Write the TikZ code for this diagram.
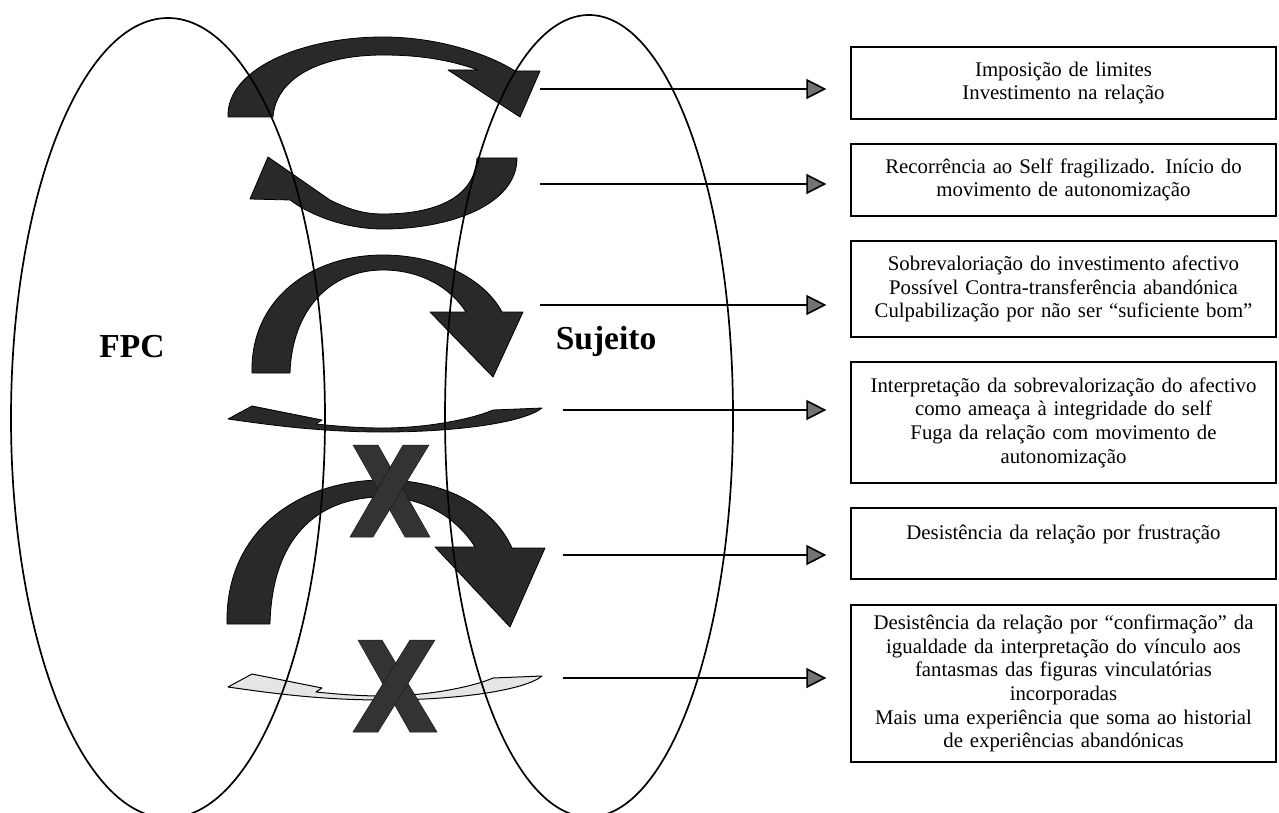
\documentclass[tikz,border=0pt]{standalone}
\usepackage{fontspec}
\setmainfont{Liberation Serif}
\usetikzlibrary{arrows.meta}
\begin{document}
\begin{tikzpicture}[x=1pt,y=-1pt,
  band/.style={fill=black!84, draw=black, line width=0.8pt, line join=round},
  lightband/.style={fill=black!10, draw=black, line width=1pt, line join=round},
  xmark/.style={fill=black!80, draw=black!90, line width=0.5pt},
  oval/.style={draw=black, line width=1.7pt},
  infobox/.style={draw=black, line width=1.3pt, minimum width=425pt, inner xsep=3pt, inner ysep=0pt, text width=419pt, align=center, font=\fontsize{20.8}{23.6}\selectfont},
  conn/.style={line width=1.6pt, -{Triangle[length=20pt,width=20pt,fill=black!55]}, shorten >=24pt},
  biglabel/.style={font=\fontsize{33.5}{38}\selectfont\bfseries, inner sep=0pt}
]
\useasboundingbox (0,0) rectangle (1279,813);
\clip (0,0) rectangle (1279,813);

% shape 1: curved down arrow (top)
\draw[band] (228,117) .. controls (226,70) and (300,37) .. (383,37)
  .. controls (440,37) and (490,55) .. (515,71)
  -- (540,71) -- (520,117) -- (448,70) -- (478,70)
  .. controls (450,60) and (420,55) .. (383,55)
  .. controls (320,55) and (276,78) .. (273,117) -- cycle;

% shape 2: curved up arrow pointing left
\draw[band] (477,158) -- (517,158)
  .. controls (517,205) and (450,229) .. (383,229)
  .. controls (345,229) and (310,215) .. (290,200)
  -- (250,199) -- (268,157) -- (330,200)
  .. controls (350,210) and (365,214) .. (383,214)
  .. controls (440,214) and (475,195) .. (477,158) -- cycle;

% shape 3: curved down arrow
\draw[band] (252,373) .. controls (250,300) and (310,255) .. (383,255)
  .. controls (440,255) and (485,280) .. (502,312)
  -- (523,312) -- (493,377) -- (430,312) -- (466,312)
  .. controls (450,287) and (420,270) .. (383,270)
  .. controls (330,270) and (292,310) .. (290,373) -- cycle;

% shape 4: flat arrow pointing left
\draw[band] (228,419) -- (252,406) -- (322,420) -- (316,424)
  .. controls (345,427) and (365,428) .. (383,428)
  .. controls (430,428) and (475,418) .. (493,410) -- (542,408)
  .. controls (525,422) and (460,432) .. (383,432)
  .. controls (320,432) and (270,425) .. (228,419) -- cycle;

% shape 5: big curved down arrow
\draw[band] (227,624) .. controls (225,530) and (300,480) .. (383,480)
  .. controls (450,480) and (495,510) .. (512,548)
  -- (545,548) -- (510,627) -- (435,547) -- (475,547)
  .. controls (455,515) and (420,497) .. (383,497)
  .. controls (315,497) and (272,540) .. (270,624) -- cycle;

% shape 6: light flat arrow pointing left
\begin{scope}[shift={(0,268)}]
\draw[lightband] (228,419) -- (252,406) -- (322,420) -- (316,424)
  .. controls (345,427) and (365,428) .. (383,428)
  .. controls (430,428) and (475,418) .. (493,410) -- (542,408)
  .. controls (525,422) and (460,432) .. (383,432)
  .. controls (320,432) and (270,425) .. (228,419) -- cycle;
\end{scope}

% X marks
\fill[xmark] (353,445) -- (378,445) -- (430,537) -- (405,537) -- cycle;
\fill[xmark] (403,445) -- (429,445) -- (373,537) -- (350,537) -- cycle;
\fill[xmark] (358,640) -- (382,640) -- (437,732) -- (410,732) -- cycle;
\fill[xmark] (410,640) -- (435,640) -- (378,732) -- (353,732) -- cycle;

% ellipses
\draw[oval] (168,418) ellipse [x radius=157pt, y radius=400pt];
\draw[oval] (589,416) ellipse [x radius=144pt, y radius=401pt];

% labels
\node[biglabel, anchor=base] (fpc) at (132,357) {FPC};
\node[biglabel, anchor=base] (suj) at (606,349) {Sujeito};

% boxes
\node[infobox, minimum height=72pt] (b1) at (1063.5,83) {Imposição de limites\\Investimento na relação};
\node[infobox, minimum height=72pt] (b2) at (1063.5,180) {Recorrência ao Self fragilizado. Início do\\movimento de autonomização};
\node[infobox, minimum height=96pt] (b3) at (1063.5,289) {Sobrevaloriação do investimento afectivo\\Possível Contra-transferência abandónica\\Culpabilização por não ser “suficiente bom”};
\node[infobox, minimum height=121pt] (b4) at (1063.5,422.5) {Interpretação da sobrevalorização do afectivo\\como ameaça à integridade do self\\Fuga da relação com movimento de\\autonomização};
\node[infobox, minimum height=71pt] (b5) at (1063.5,543.5) {Desistência da relação por frustração\\\mbox{}};
\node[infobox, minimum height=157pt] (b6) at (1063.5,683.5) {Desistência da relação por “confirmação” da\\igualdade da interpretação do vínculo aos\\fantasmas das figuras vinculatórias\\incorporadas\\Mais uma experiência que soma ao historial\\de experiências abandónicas};

% connectors
\coordinate (s1) at (540,89);
\coordinate (s2) at (540,184);
\coordinate (s3) at (540,305);
\coordinate (s4) at (563,410);
\coordinate (s5) at (563,555);
\coordinate (s6) at (563,678);
\draw[conn] (s1) -- (s1 -| b1.west);
\draw[conn] (s2) -- (s2 -| b2.west);
\draw[conn] (s3) -- (s3 -| b3.west);
\draw[conn] (s4) -- (s4 -| b4.west);
\draw[conn] (s5) -- (s5 -| b5.west);
\draw[conn] (s6) -- (s6 -| b6.west);
\end{tikzpicture}
\end{document}
